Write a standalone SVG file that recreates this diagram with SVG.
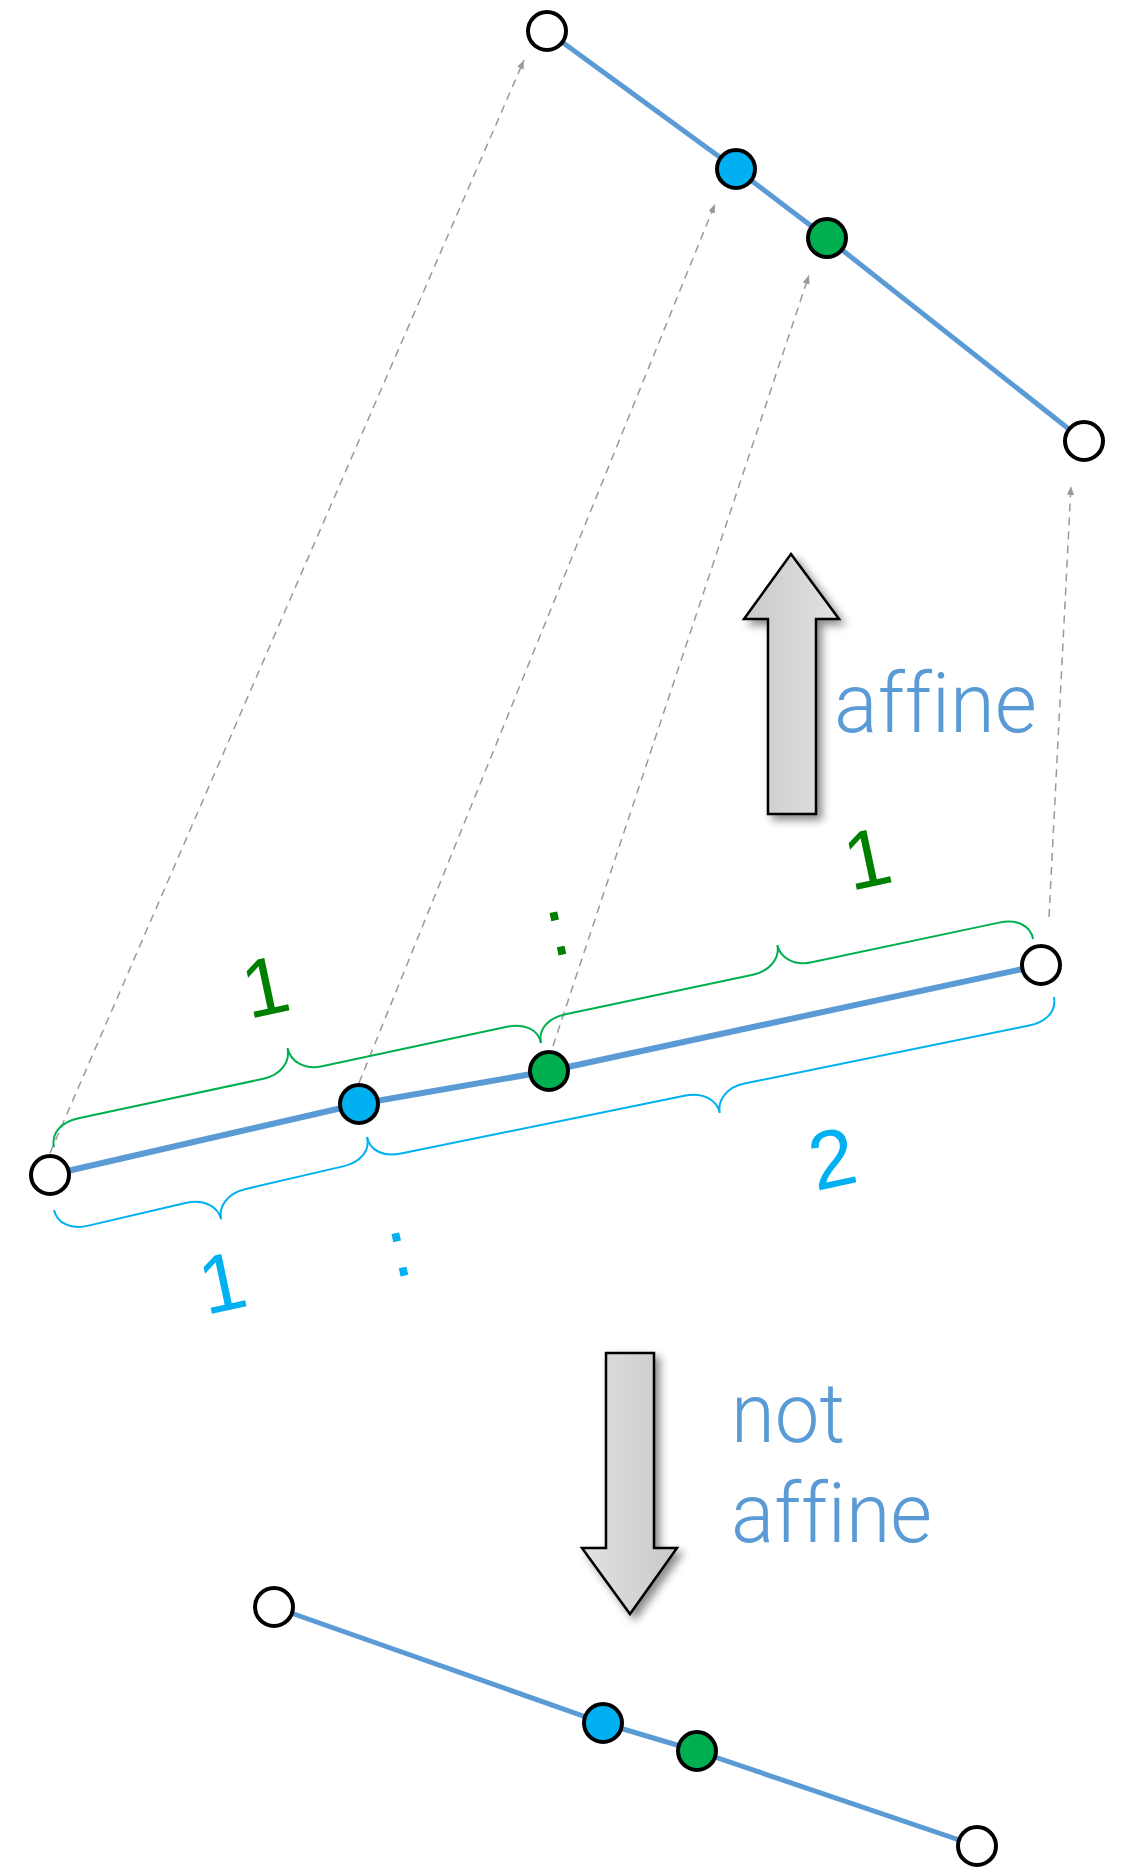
<svg xmlns="http://www.w3.org/2000/svg" width="1127" height="1868" viewBox="0 0 1127 1868">
<style>
.seg{fill:none;stroke:#5B9BD5;stroke-width:5;stroke-linejoin:round}
.seg.mid{stroke-width:6}
.dash{fill:none;stroke:#9a9a9a;stroke-width:1.5;stroke-dasharray:8 6}
.node{stroke:#000;stroke-width:4}
.w{fill:#fff}.b{fill:#00B0F0}.g{fill:#00B050}
.brG{fill:none;stroke:#00B050;stroke-width:2}
.brB{fill:none;stroke:#00B0F0;stroke-width:2}
.num{font-family:"Liberation Sans",Arial,sans-serif;font-size:82px;text-anchor:middle}
.lg{fill:#008000}.lb{fill:#00B0F0}
.word{font-family:Roboto,"Liberation Sans",Arial,sans-serif;font-size:84px;fill:#5B9BD5;font-weight:300;font-variant-ligatures:none;font-feature-settings:"liga" 0}
.big{stroke:#000;stroke-width:2.5;stroke-linejoin:miter;filter:url(#sh)}
</style>
<defs>
<marker id="ah" markerUnits="userSpaceOnUse" markerWidth="10" markerHeight="8" refX="9" refY="3.5" orient="auto">
<path d="M0,0 L9,3.5 L0,7 z" fill="#9a9a9a"/>
</marker>
<linearGradient id="gu" x1="0" y1="0" x2="1" y2="0">
<stop offset="0" stop-color="#c9c9c9"/><stop offset="1" stop-color="#e2e2e2"/>
</linearGradient>
<linearGradient id="gd" x1="0" y1="0" x2="1" y2="0">
<stop offset="0" stop-color="#e2e2e2"/><stop offset="1" stop-color="#c9c9c9"/>
</linearGradient>
<filter id="sh" x="-30%" y="-30%" width="160%" height="160%">
<feDropShadow dx="5" dy="5" stdDeviation="4" flood-color="#000" flood-opacity="0.45"/>
</filter>
</defs>

<g id="connectors">
<polyline class="seg" points="547,31 736,169 827,238 1084,441"/>
<polyline class="seg mid" points="50,1175 359,1104 549,1071 1041,965"/>
<polyline class="seg" points="274,1607 603,1723 697,1751 977,1846"/>
<line class="dash" x1="50" y1="1153" x2="524" y2="60" marker-end="url(#ah)"/>
<line class="dash" x1="359" y1="1083" x2="715" y2="204" marker-end="url(#ah)"/>
<line class="dash" x1="553" y1="1046" x2="809" y2="275" marker-end="url(#ah)"/>
<line class="dash" x1="1049" y1="917" x2="1071" y2="486" marker-end="url(#ah)"/>
</g>

<g id="braces">
<path class="brG" transform="translate(54,1147) rotate(-12.05)" d="M0,0 C0,-14 12,-23 30,-23 L219,-23 C237,-23 249,-34 249,-48 C249,-34 261,-23 279,-23 L468,-23 C486,-23 498,-14 498,0"/>
<path class="brG" transform="translate(541,1043) rotate(-11.94)" d="M0,0 C0,-14 12,-23 30,-23 L221.5,-23 C239.5,-23 251.5,-34 251.5,-47 C251.5,-34 263.5,-23 281.5,-23 L473,-23 C491,-23 503,-14 503,0"/>
<path class="brB" transform="translate(54,1210) rotate(-13.1)" d="M0,0 C0,14 12,23 30,23 L130.7,23 C148.7,23 160.7,34 160.7,47 C160.7,34 172.7,23 190.7,23 L291.4,23 C309.4,23 321.4,14 321.4,0"/>
<path class="brB" transform="translate(367,1137) rotate(-11.52)" d="M0,0 C0,14 12,23 30,23 L320.5,23 C338.5,23 350.5,34 350.5,47 C350.5,34 362.5,23 380.5,23 L671,23 C689,23 701,14 701,0"/>
</g>

<g id="labels">
<text class="num lg" transform="translate(265,986) rotate(-12)" x="0" y="29">1</text>
<text class="num lg" transform="translate(558,934) rotate(-12)" x="0" y="21">:</text>
<text class="num lg" transform="translate(867,858) rotate(-12)" x="0" y="29">1</text>
<text class="num lb" transform="translate(222,1282) rotate(-12)" x="0" y="29">1</text>
<text class="num lb" transform="translate(400,1255) rotate(-12)" x="0" y="21">:</text>
<text class="num lb" transform="translate(832,1158) rotate(-12)" x="0" y="29">2</text>
</g>

<g id="arrow-affine">
<polygon class="big" fill="url(#gu)" points="791,554 839,619 816,619 816,814 768,814 768,619 744,619"/>
<text class="word" x="834" y="732" textLength="203" lengthAdjust="spacingAndGlyphs">affine</text>
</g>

<g id="arrow-not-affine">
<polygon class="big" fill="url(#gd)" points="606,1353 654,1353 654,1548 677,1548 630,1614 582,1548 606,1548"/>
<text class="word" x="731" y="1442" textLength="114" lengthAdjust="spacingAndGlyphs">not</text>
<text class="word" x="731" y="1542" textLength="201" lengthAdjust="spacingAndGlyphs">affine</text>
</g>

<g id="top-a"><circle class="node w" cx="547" cy="31" r="19"/></g>
<g id="top-b"><circle class="node b" cx="736" cy="169" r="19"/></g>
<g id="top-c"><circle class="node g" cx="827" cy="238" r="19"/></g>
<g id="top-d"><circle class="node w" cx="1084" cy="441" r="19"/></g>

<g id="mid-a"><circle class="node w" cx="50" cy="1175" r="19"/></g>
<g id="mid-b"><circle class="node b" cx="359" cy="1104" r="19"/></g>
<g id="mid-c"><circle class="node g" cx="549" cy="1071" r="19"/></g>
<g id="mid-d"><circle class="node w" cx="1041" cy="965" r="19"/></g>

<g id="bot-a"><circle class="node w" cx="274" cy="1607" r="19"/></g>
<g id="bot-b"><circle class="node b" cx="603" cy="1723" r="19"/></g>
<g id="bot-c"><circle class="node g" cx="697" cy="1751" r="19"/></g>
<g id="bot-d"><circle class="node w" cx="977" cy="1846" r="19"/></g>
</svg>
